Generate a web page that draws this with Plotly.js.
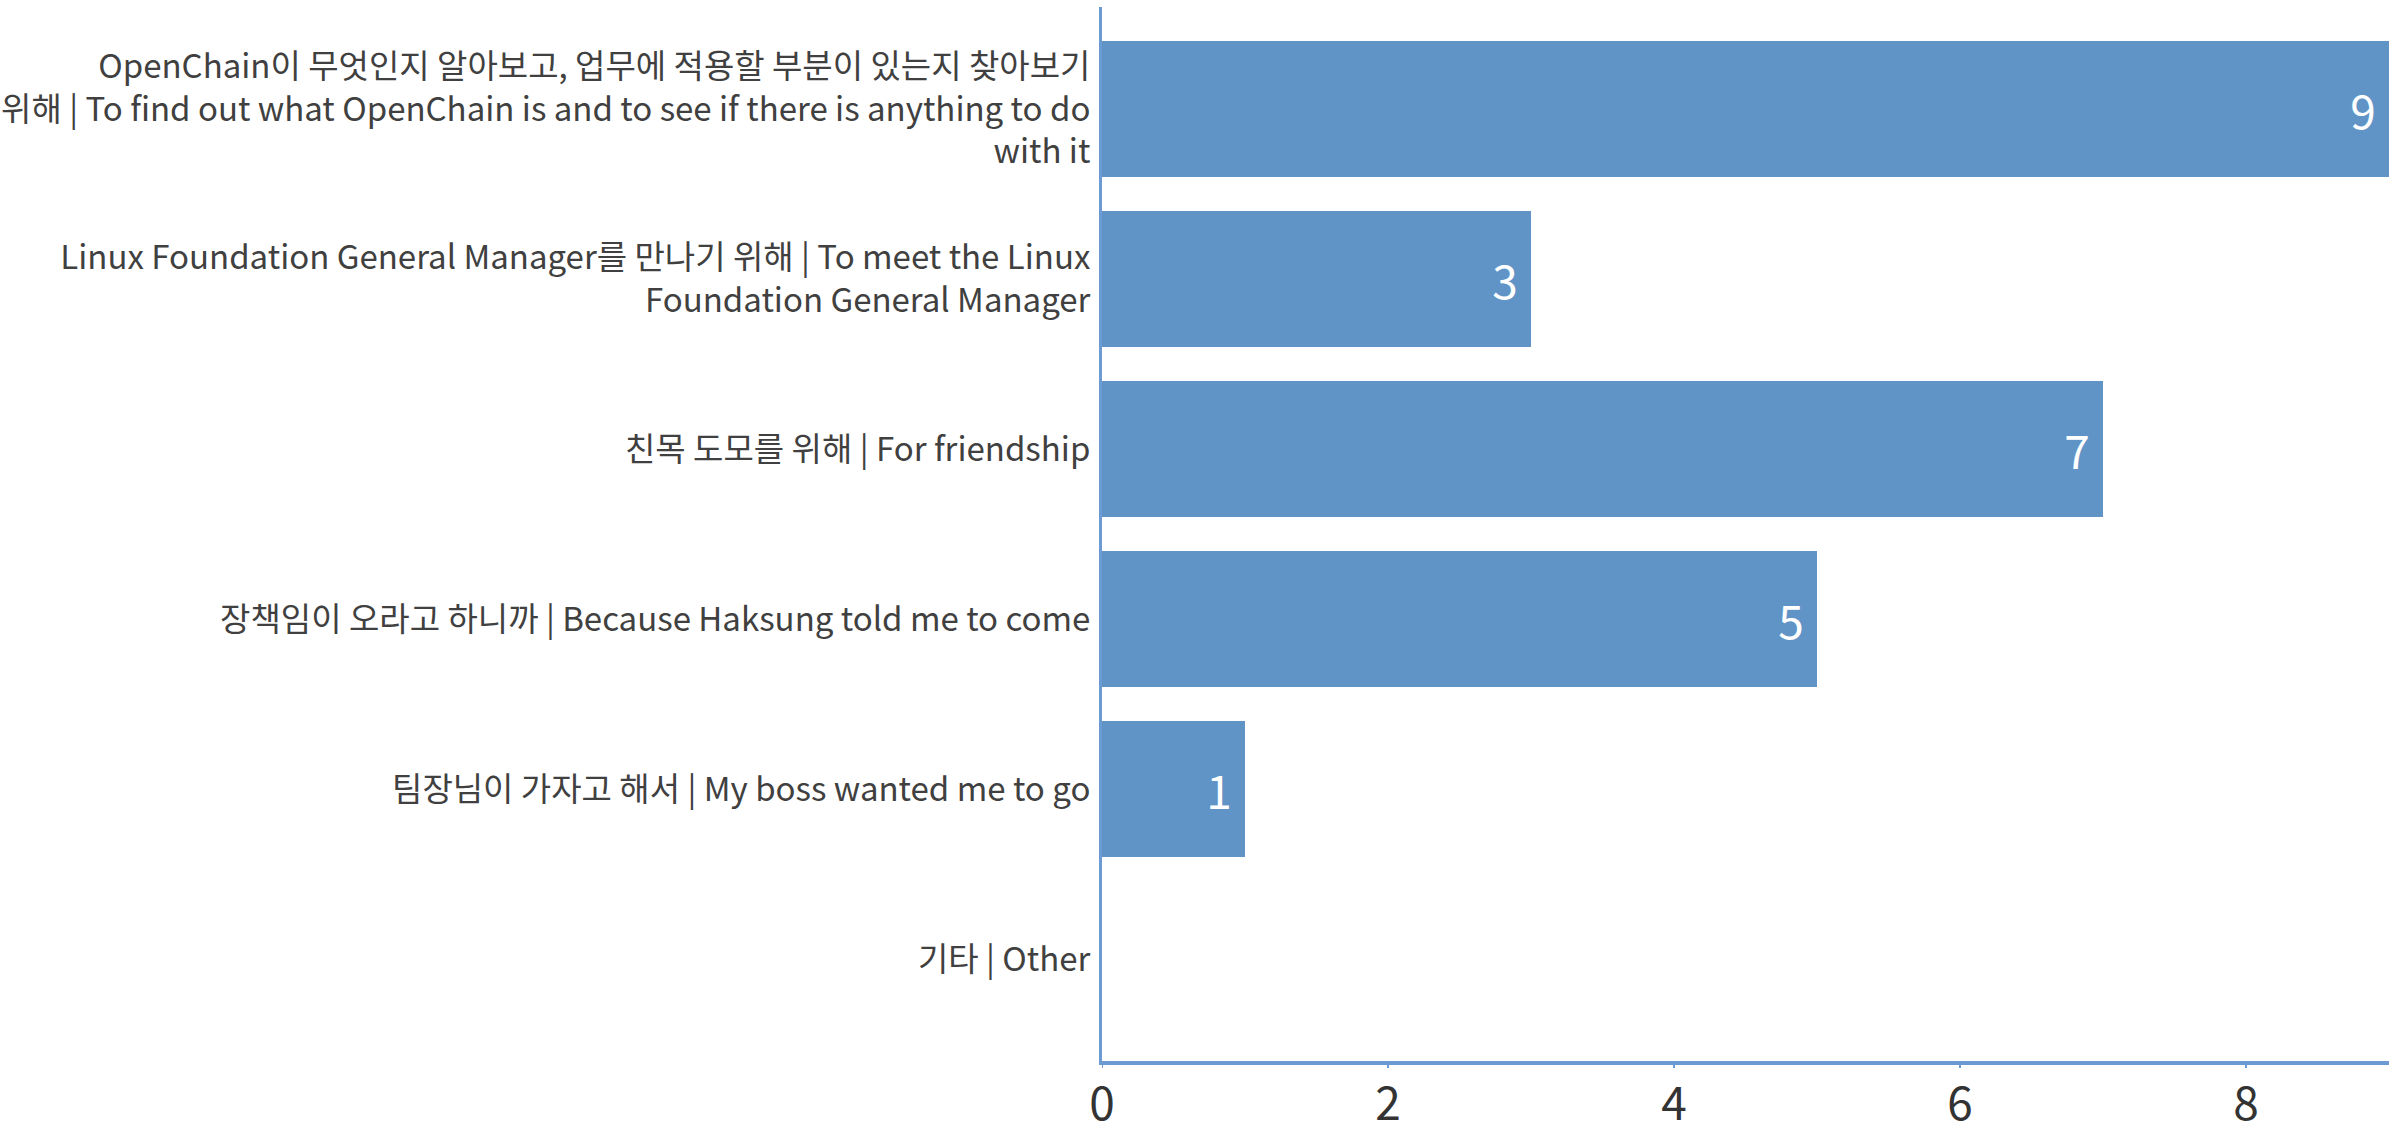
<!DOCTYPE html>
<html>
<head>
<meta charset="utf-8">
<script src="https://cdn.plot.ly/plotly-3.0.1.min.js"></script>
<style>html,body{margin:0;padding:0;background:#fff;}#chart{width:2407px;height:1122px;}</style>
</head>
<body>
<div id="chart"></div>
<script>
const categories = [
  "OpenChain이 무엇인지 알아보고, 업무에 적용할 부분이 있는지 찾아보기<br>위해 | To find out what OpenChain is and to see if there is anything to do<br>with it",
  "Linux Foundation General Manager를 만나기 위해 | To meet the Linux<br>Foundation General Manager",
  "친목 도모를 위해 | For friendship",
  "장책임이 오라고 하니까 | Because Haksung told me to come",
  "팀장님이 가자고 해서 | My boss wanted me to go",
  "기타 | Other"
];
const counts = [9, 3, 7, 5, 1, 0];
const xTicks = [0, 2, 4, 6, 8];

const font = "Noto Sans CJK KR, Noto Sans, sans-serif";
const axisColor = '#6b9bd2';
const trace = {
  type: 'bar',
  orientation: 'h',
  y: categories,
  x: counts,
  text: counts.map(v => v > 0 ? String(v) + '\u00a0' : ''),
  textposition: 'inside',
  insidetextanchor: 'end',
  textangle: 0,
  insidetextfont: {family: font, size: 46, color: '#ffffff'},
  marker: {color: '#6194c6', line: {width: 0}},
  hoverinfo: 'none',
  cliponaxis: false
};
const tickShapes = xTicks.map(v => ({
  type: 'line', xref: 'x', yref: 'paper',
  x0: v, x1: v, y0: 0, y1: -7 / 1054,
  line: {color: axisColor, width: 2}
}));
const layout = {
  width: 2407, height: 1122,
  margin: {l: 1102, r: 18, t: 7, b: 61, pad: 0},
  paper_bgcolor: '#ffffff', plot_bgcolor: '#ffffff',
  showlegend: false,
  bargap: 0.2,
  font: {family: font, color: '#404040'},
  shapes: tickShapes,
  xaxis: {
    range: [0, 9], tickvals: xTicks, ticktext: xTicks.map(String),
    showgrid: false, zeroline: false,
    showline: true, linecolor: axisColor, linewidth: 4,
    ticks: '',
    tickfont: {family: font, size: 46, color: '#333333'},
    fixedrange: true
  },
  yaxis: {
    type: 'category', range: [5.6, -0.6],
    showgrid: false, zeroline: false,
    showline: true, linecolor: axisColor, linewidth: 3,
    ticks: '', ticklabelstandoff: 2,
    tickfont: {family: font, size: 33, color: '#404040'},
    fixedrange: true
  }
};
Plotly.newPlot('chart', [trace], layout, {displayModeBar: false, staticPlot: true});
</script>
</body>
</html>
